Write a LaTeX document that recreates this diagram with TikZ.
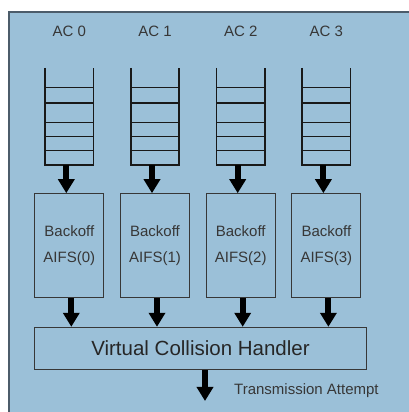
\documentclass[tikz,border=0pt]{standalone}
\usepackage{fontspec}
\setmainfont{Liberation Sans}
\usetikzlibrary{arrows.meta, positioning}

\definecolor{panelblue}{RGB}{155,192,216}
\definecolor{panelrim}{RGB}{76,92,106}
\definecolor{inkgray}{RGB}{55,55,55}

\begin{document}
\begin{tikzpicture}[
  x=1pt, y=1pt,
  node distance = 28pt and 37.3pt,
  queue/.style = {
    rectangle, inner sep=0pt,
    minimum width=48pt, minimum height=97pt
  },
  aclabel/.style = {
    inner sep=0pt, text=inkgray,
    font=\fontsize{15}{18}\selectfont
  },
  backoff/.style = {
    rectangle, draw=inkgray, line width=0.9pt,
    minimum width=69pt, minimum height=104pt,
    align=center, text=inkgray,
    font=\fontsize{15}{26.7}\selectfont
  },
  handler/.style = {
    rectangle, draw=inkgray, line width=0.9pt,
    minimum width=331.4pt, minimum height=42.6pt,
    text=black!85, font=\fontsize{20.5}{24}\selectfont
  },
  note/.style = {
    inner sep=0pt, text=inkgray,
    font=\fontsize{15}{18}\selectfont
  },
  queueline/.style = {black!90, line width=1.6pt},
  arrow/.style = {-{Triangle[length=14pt, width=16pt]}, line width=6pt, black}
]
%--- FUNDO ---
\useasboundingbox (0,0) rectangle (409,412);
\clip (0,0) rectangle (409,412);
\fill[white] (0,0) rectangle (409,412);
\draw[panelrim, fill=panelblue, line width=2.4pt] (9.2,399.8) rectangle (430,-20);
%--- FILAS AC ---
\node[queue] (q0) at (69.3,295.5) {};
\node[queue, right=of q0] (q1) {};
\node[queue, right=of q1] (q2) {};
\node[queue, right=of q2] (q3) {};
\foreach \q in {q0,q1,q2,q3} {
  \draw[queueline] (\q.north west) -- (\q.south west) -- (\q.south east) -- (\q.north east);
  \foreach \h in {14.5,28.5,42.5,62.2,77.5}
    \draw[queueline] ([yshift=\h pt]\q.south west) -- ([yshift=\h pt]\q.south east);
}
\node[aclabel, above=30.7pt of q0] (ac0) {AC 0};
\node[aclabel, above=30.7pt of q1] (ac1) {AC 1};
\node[aclabel, above=30.7pt of q2] (ac2) {AC 2};
\node[aclabel, above=30.7pt of q3] (ac3) {AC 3};
%--- BACKOFF ---
\node[backoff, below=of q0] (b0) {Backoff\\AIFS(0)};
\node[backoff, below=of q1] (b1) {Backoff\\AIFS(1)};
\node[backoff, below=of q2] (b2) {Backoff\\AIFS(2)};
\node[backoff, below=of q3] (b3) {Backoff\\AIFS(3)};
%--- HANDLER ---
\node[handler, anchor=north west] (vch) at ([yshift=-28.7pt]b0.south west) {Virtual Collision Handler};
\coordinate (txout) at (205,11);
\node[note, anchor=base west] (txnote) at (234,17) {Transmission Attempt};
%--- SETAS ---
\draw[arrow] ([xshift=-3pt]q0.south) -- ([xshift=-3pt]b0.north);
\draw[arrow] ([xshift=-3pt]q1.south) -- ([xshift=-3pt]b1.north);
\draw[arrow] ([xshift=-3pt]q2.south) -- ([xshift=-3pt]b2.north);
\draw[arrow] ([xshift=-3pt]q3.south) -- ([xshift=-3pt]b3.north);
\draw[arrow] ([xshift=2pt]b0.south) -- ([xshift=2pt]b0.south |- vch.north);
\draw[arrow] ([xshift=2pt]b1.south) -- ([xshift=2pt]b1.south |- vch.north);
\draw[arrow] ([xshift=2pt]b2.south) -- ([xshift=2pt]b2.south |- vch.north);
\draw[arrow] ([xshift=2pt]b3.south) -- ([xshift=2pt]b3.south |- vch.north);
\draw[arrow] (vch.south -| txout) -- (txout);
\end{tikzpicture}
\end{document}
